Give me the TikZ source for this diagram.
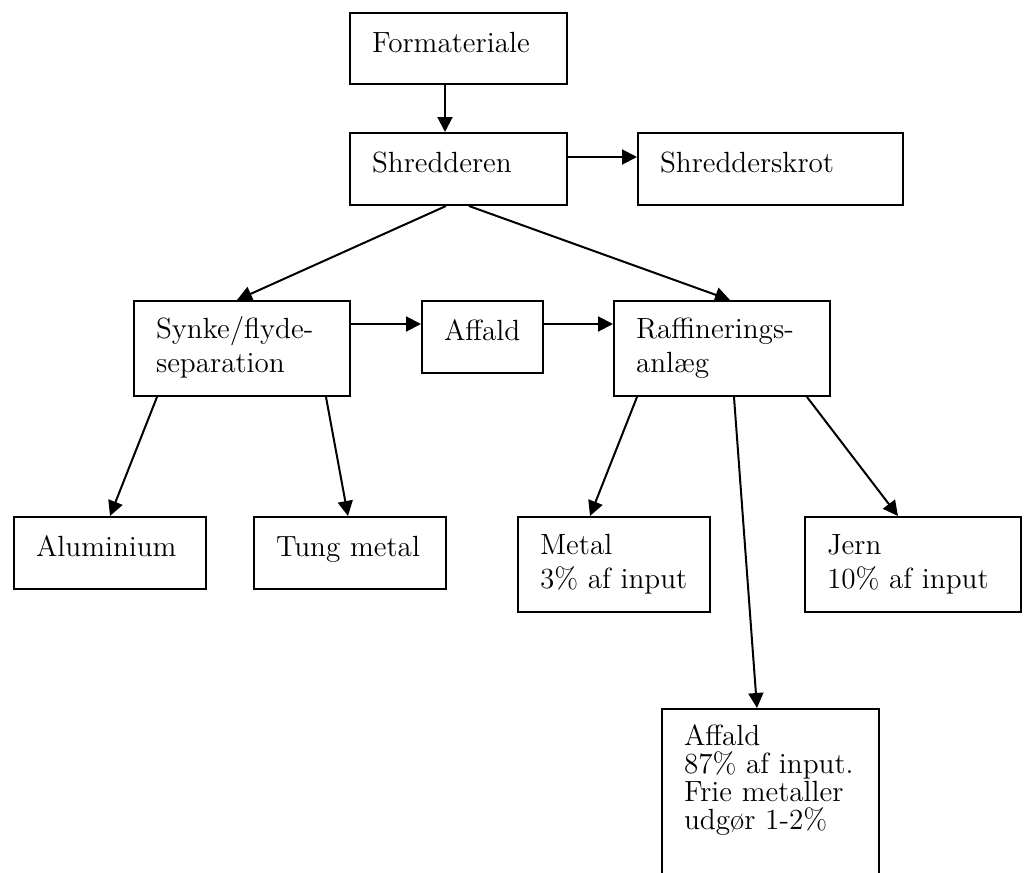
\documentclass[tikz,border=0pt]{standalone}
\usepackage{fontspec}
\usetikzlibrary{arrows.meta}
\begin{document}
\begin{tikzpicture}[x=0.5pt,y=-0.5pt,line width=1pt,
	arrow/.style={>={Triangle[length=7.5pt,width=7.5pt]},->},
	box/.style={draw,anchor=north west,inner xsep=11pt,inner ysep=0pt,align=left,text height=19.5pt,text depth=16.5pt,font=\fontsize{14.6}{17}\selectfont},
	tallbox/.style={box,text height=18.75pt,text depth=28.75pt}]
	\useasboundingbox (0,0) rectangle (1025,873);
	\node[box,text width=86.5pt,text depth=16pt] (form) at (349,12) {Formateriale};
	\node[box,text width=86.5pt] (shred) at (349,132) {Shredderen};
	\node[box,text width=110.5pt] (skrot) at (637,132) {Shredderskrot};
	\node[tallbox,text width=86pt] (synke) at (133,300) {Synke/flyde-\\separation};
	\node[box,text width=38.5pt] (affm) at (421,300) {Affald};
	\node[tallbox,text width=86pt] (raff) at (613,300) {Raffinerings-\\anlæg};
	\node[box,text width=74pt] (alu) at (13,516) {Aluminium};
	\node[box,text width=74pt] (tung) at (253,516) {Tung~metal};
	\node[tallbox,text width=74pt] (metal) at (517,516) {Metal\\3\%~af~input};
	\node[tallbox,text width=86pt] (jern) at (804,516) {Jern\\10\%~af~input};
	\node[box,text width=86.5pt,text height=18pt,text depth=100pt,font=\fontsize{14.6}{14}\selectfont] (aff) at (661,708) {Affald\\87\%~af~input.\\Frie~metaller\\udgør~1-2\%};
	\draw[arrow] ([xshift=48pt]form.south west)--([xshift=48pt]shred.north west);
	\draw[arrow] ([yshift=-12.5pt]shred.north east)--([yshift=-12.5pt]skrot.north west);
	\draw[arrow] ([xshift=48.5pt]shred.south west)--([xshift=52pt]synke.north west);
	\draw[arrow] ([xshift=60pt]shred.south west)--([xshift=58.5pt]raff.north west);
	\draw[arrow] ([yshift=-12pt]synke.north east)--([yshift=-12pt]affm.north west);
	\draw[arrow] ([yshift=-12pt]affm.north east)--([yshift=-12pt]raff.north west);
	\draw[arrow] ([xshift=12pt]synke.south west)--([xshift=48.5pt]alu.north west);
	\draw[arrow] ([xshift=96.5pt]synke.south west)--([xshift=47.5pt]tung.north west);
	\draw[arrow] ([xshift=12pt]raff.south west)--([xshift=36.5pt]metal.north west);
	\draw[arrow] ([xshift=60.5pt]raff.south west)--([xshift=48pt]aff.north west);
	\draw[arrow] ([xshift=97pt]raff.south west)--([xshift=47pt]jern.north west);
\end{tikzpicture}
\end{document}
